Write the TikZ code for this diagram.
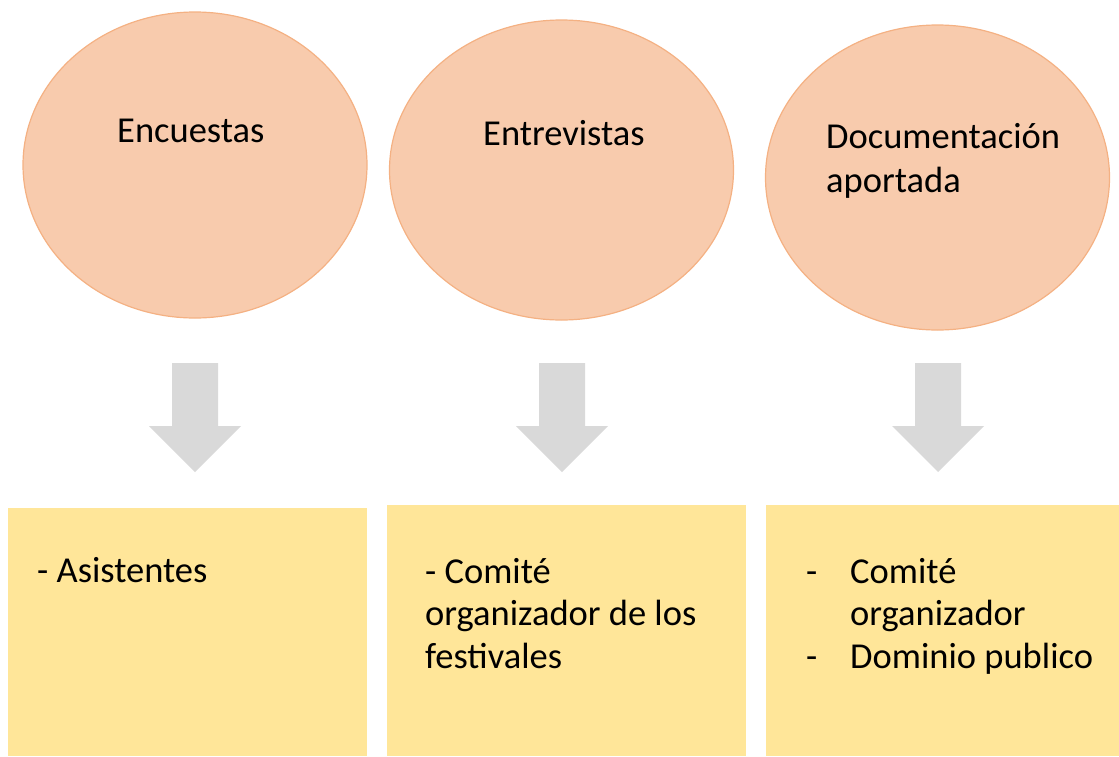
\documentclass[tikz,border=0pt]{standalone}
\usepackage{fontspec}
\setmainfont{Carlito}
\usetikzlibrary{shapes.geometric}
\definecolor{salmon}{HTML}{F8CBAD}
\definecolor{salmonline}{HTML}{F4B183}
\definecolor{arrowgray}{HTML}{D9D9D9}
\definecolor{paleyellow}{HTML}{FFE699}
\tikzset{
  source/.style={ellipse,draw=salmonline,fill=salmon,line width=1.2pt,inner sep=0pt,minimum width=344pt},
  panel/.style={fill=paleyellow,draw=none,inner sep=0pt,anchor=north west},
  txt/.style={anchor=base west,inner sep=0pt,font=\fontsize{36.5}{43}\selectfont}
}
\begin{document}
\begin{tikzpicture}[x=1pt,y=-1pt]
\useasboundingbox (0,0) rectangle (1119,756);
% sources
\node[source,minimum height=306pt] (enc) at (195,165) {};
\node[source,minimum height=300pt] (ent) at (561.5,170) {};
\node[source,minimum height=305pt] (doc) at (937.5,177.5) {};
\node[txt] (encT) at (117,142) {Encuestas};
\node[txt] (entT) at (483,145) {Entrevistas};
\node[txt] (docT1) at (826,148) {Documentación};
\node[txt] (docT2) at (826,192) {aportada};
% block arrows
\fill[arrowgray] (172,363) -- (218,363) -- (218,426) -- (241,426) -- (195,472) -- (149,426) -- (172,426) -- cycle;
\fill[arrowgray] (539,363) -- (585,363) -- (585,426) -- (608,426) -- (562,472) -- (516,426) -- (539,426) -- cycle;
\fill[arrowgray] (915,363) -- (961,363) -- (961,426) -- (984,426) -- (938,472) -- (892,426) -- (915,426) -- cycle;
% panels
\node[panel,minimum width=359pt,minimum height=248pt] (asi) at (8,508) {};
\node[panel,minimum width=359pt,minimum height=251pt] (com) at (387,505) {};
\node[panel,minimum width=353pt,minimum height=251pt] (dom) at (766,505) {};
\node[txt] (asiT) at (37,582) {- Asistentes};
\node[txt] (comT1) at (425,583) {- Comité};
\node[txt] (comT2) at (425,625) {organizador de los};
\node[txt] (comT3) at (425,668) {festivales};
\node[txt] (domD1) at (806,583) {-};
\node[txt] (domT1) at (850,583) {Comité};
\node[txt] (domT2) at (850,625) {organizador};
\node[txt] (domD2) at (806,668) {-};
\node[txt] (domT3) at (850,668) {Dominio publico};
\end{tikzpicture}
\end{document}
